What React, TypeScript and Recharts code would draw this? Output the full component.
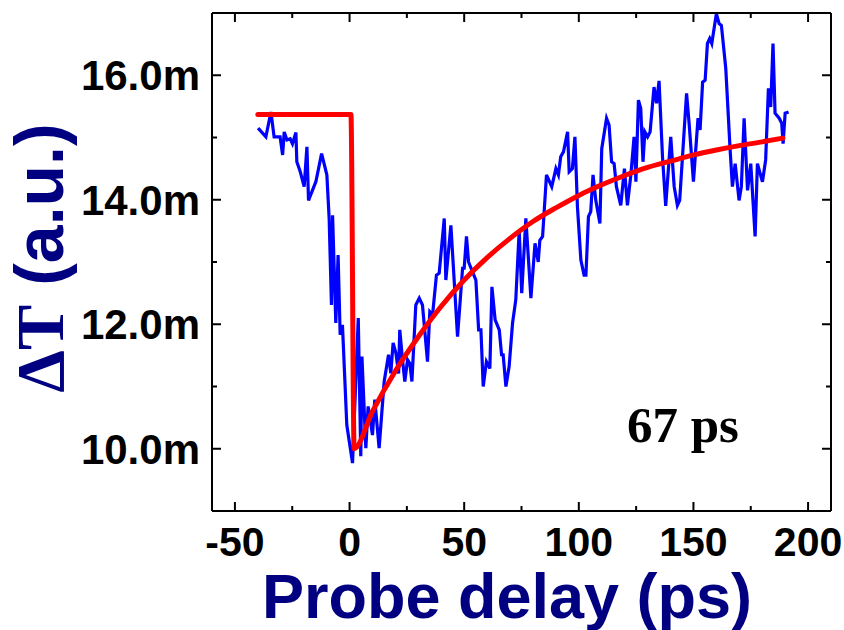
import React from "react";
import { LineChart, Line, XAxis, YAxis, Customized } from "recharts";

// measured trace (probe delay in ps, ΔT in units of 1e-3)
const blueT = [
  -39.9, -36.5, -34.3, -32.9, -30.3, -29.2, -28.5, -27.3, -25.9, -24.9, -23.4, -23.0, -21.5, -19.8, -18.6, -17.9,
  -14.7, -12.2, -9.9, -8.9, -7.9, -7.4, -6.0, -5.0, -4.1, -3.1, -1.2, 1.3, 3.8, 4.9, 5.4, 7.1, 8.1, 10.0, 11.0,
  12.9, 15.1, 17.0, 18.0, 19.0, 20.2, 21.4, 21.9, 23.1, 24.1, 25.3, 26.3, 27.2, 28.9, 30.4, 31.8, 34.0, 35.0,
  36.2, 37.9, 39.1, 41.3, 42.0, 44.2, 47.1, 49.3, 50.0, 51.0, 51.9, 55.1, 56.3, 57.3, 58.3, 59.7, 61.2, 62.1,
  63.5, 65.3, 66.3, 67.0, 68.2, 69.6, 71.1, 72.5, 74.0, 75.1, 76.9, 79.1, 80.9, 82.3, 83.0, 84.2, 85.9, 88.2,
  90.0, 91.1, 92.1, 93.3, 95.1, 95.8, 97.2, 98.3, 99.4, 100.9, 102.3, 103.1, 104.2, 105.2, 106.2, 107.4, 109.2,
  110.0, 112.1, 113.2, 114.3, 115.4, 116.4, 118.3, 119.9, 121.2, 122.7, 124.1, 124.9, 126.0, 127.0, 128.0,
  128.8, 130.0, 131.1, 132.8, 133.9, 135.0, 136.5, 137.9, 140.1, 141.6, 143.0, 144.0, 147.0, 148.1, 150.0,
  152.0, 152.9, 154.0, 155.1, 156.1, 157.1, 158.0, 160.0, 161.2, 162.2, 164.1, 166.0, 167.0, 168.2, 169.9,
  170.9, 172.1, 173.6, 175.0, 176.9, 177.9, 180.1, 181.5, 182.7, 183.7, 184.7, 185.6, 187.4, 188.5, 189.1,
  190.0, 191.5,
];
const blueV = [
  15.15, 15.01, 15.41, 15.01, 15.01, 14.72, 15.09, 14.96, 14.98, 14.9, 15.08, 14.61, 14.45, 14.21, 14.85, 13.99,
  14.29, 14.74, 14.4, 13.7, 12.31, 13.75, 12.02, 13.11, 11.83, 11.99, 10.38, 9.77, 12.1, 9.88, 11.48, 10.01,
  10.68, 10.22, 10.79, 10.01, 11.08, 11.51, 11.21, 11.7, 11.54, 11.21, 11.91, 11.43, 11.08, 11.43, 11.37,
  11.08, 12.31, 12.42, 12.31, 11.4, 12.2, 12.15, 12.79, 12.82, 13.7, 12.71, 13.59, 11.8, 12.9, 12.9, 13.41,
  13.0, 12.71, 11.91, 11.91, 11.0, 11.4, 11.29, 12.6, 12.07, 11.91, 11.51, 11.51, 11.0, 11.32, 12.02, 12.39,
  13.51, 12.5, 13.7, 12.42, 13.3, 13.0, 13.35, 13.41, 14.4, 14.21, 14.5, 14.4, 14.69, 14.77, 15.09, 14.45,
  14.5, 15.01, 13.89, 13.03, 12.79, 12.79, 13.73, 13.81, 14.4, 13.99, 13.62, 14.82, 15.31, 15.2, 14.61, 14.58,
  14.21, 13.91, 14.5, 13.91, 14.4, 15.01, 14.29, 15.6, 15.47, 14.61, 15.09, 15.01, 15.09, 15.81, 15.55, 15.91,
  14.69, 13.9, 15.01, 14.21, 13.91, 13.99, 15.71, 15.23, 14.29, 15.31, 15.12, 15.89, 15.92, 16.51, 16.59,
  16.51, 16.99, 16.83, 16.8, 16.11, 14.8, 14.21, 14.58, 13.99, 14.21, 15.31, 14.15, 14.58, 13.41, 14.58,
  14.29, 14.64, 15.79, 15.49, 16.51, 15.39, 15.31, 15.23, 14.9, 15.39, 15.41,
];

// single-exponential fit (τ = 67 ps)
const fitT = [-40, 0.6, 2, 10, 20, 30, 40, 50, 60, 70, 80, 90, 100, 110, 120, 130, 140, 150, 160, 170, 180, 189];
const fitV = [
  15.37, 15.37, 10.0, 10.6, 11.25, 11.8, 12.29, 12.71, 13.07, 13.38, 13.65, 13.87, 14.07, 14.24, 14.39, 14.52,
  14.62, 14.72, 14.8, 14.87, 14.93, 14.99,
];

const xTicks = [-50, -25, 0, 25, 50, 75, 100, 125, 150, 175, 200];
const yTicks = [10, 11, 12, 13, 14, 15, 16];

const blueData = blueT.map((t, i) => ({ t, v: blueV[i] }));
const fitData = fitT.map((t, i) => ({ t, v: fitV[i] }));

const FONT = "'Liberation Sans', Arial, sans-serif";
const SERIF = "'Liberation Serif', 'Times New Roman', serif";
const NAVY = "#000080";

const BottomTick = ({ x, y, payload }: any) => {
  const major = payload.value % 50 === 0;
  return (
    <g>
      <line x1={x} y1={y} x2={x} y2={y - (major ? 9 : 5)} stroke="#000" strokeWidth={2} />
      {major && (
        <text x={x} y={y + 45} textAnchor="middle" fontFamily={FONT} fontWeight="bold" fontSize={41} fill="#000">
          {payload.value}
        </text>
      )}
    </g>
  );
};

const TopTick = ({ x, y, payload }: any) => {
  const major = payload.value % 50 === 0;
  return <line x1={x} y1={y} x2={x} y2={y + (major ? 9 : 5)} stroke="#000" strokeWidth={2} />;
};

const LeftTick = ({ x, y, payload }: any) => {
  const major = payload.value % 2 === 0;
  return (
    <g>
      <line x1={x} y1={y} x2={x + (major ? 9 : 5)} y2={y} stroke="#000" strokeWidth={2} />
      {major && (
        <text x={x - 12} y={y + 15} textAnchor="end" fontFamily={FONT} fontWeight="bold" fontSize={42} fill="#000">
          {payload.value.toFixed(1)}m
        </text>
      )}
    </g>
  );
};

const RightTick = ({ x, y, payload }: any) => {
  const major = payload.value % 2 === 0;
  return <line x1={x} y1={y} x2={x - (major ? 9 : 5)} y2={y} stroke="#000" strokeWidth={2} />;
};

const Labels = () => (
  <g>
    <text x={507} y={618} textAnchor="middle" fontFamily={FONT} fontWeight="bold" fontSize={63} fill={NAVY}>
      Probe delay (ps)
    </text>
    <text
      x={63}
      y={258}
      textAnchor="middle"
      transform="rotate(-90, 63, 258)"
      fontWeight="bold"
      fontSize={68}
      fill={NAVY}
    >
      <tspan fontFamily={SERIF}>ΔT</tspan>
      <tspan fontFamily={FONT}> (a.u.)</tspan>
    </text>
    <text x={627} y={442} fontFamily={SERIF} fontWeight="bold" fontSize={51} fill="#000">
      67 ps
    </text>
  </g>
);

export default function App() {
  const axisLine = { stroke: "#000", strokeWidth: 2 };
  return (
    <div style={{ position: "absolute", left: 0, top: 0, background: "#fff" }}>
      <LineChart width={844} height={630} margin={{ top: 12, right: 12, left: 0, bottom: 0 }}>
        <XAxis
          type="number"
          dataKey="t"
          domain={[-60, 210]}
          ticks={xTicks}
          allowDataOverflow
          height={119}
          tickSize={0}
          tickMargin={0}
          tickLine={false}
          axisLine={axisLine}
          tick={<BottomTick />}
          interval={0}
        />
        <XAxis
          xAxisId="top"
          orientation="top"
          type="number"
          dataKey="t"
          domain={[-60, 210]}
          ticks={xTicks}
          allowDataOverflow
          height={1}
          tickSize={0}
          tickMargin={0}
          tickLine={false}
          axisLine={axisLine}
          tick={<TopTick />}
          interval={0}
        />
        <YAxis
          type="number"
          domain={[9, 17]}
          ticks={yTicks}
          allowDataOverflow
          width={212}
          tickSize={0}
          tickMargin={0}
          tickLine={false}
          axisLine={axisLine}
          tick={<LeftTick />}
          interval={0}
        />
        <YAxis
          yAxisId="right"
          orientation="right"
          type="number"
          domain={[9, 17]}
          ticks={yTicks}
          allowDataOverflow
          width={1}
          tickSize={0}
          tickMargin={0}
          tickLine={false}
          axisLine={axisLine}
          tick={<RightTick />}
          interval={0}
        />
        <Line
          data={blueData}
          dataKey="v"
          type="linear"
          stroke="#0000ff"
          strokeWidth={3.2}
          dot={false}
          isAnimationActive={false}
        />
        <Line
          data={fitData}
          dataKey="v"
          type="monotone"
          stroke="#ff0000"
          strokeWidth={5}
          strokeLinecap="round"
          dot={false}
          isAnimationActive={false}
        />
        <Customized component={Labels} />
      </LineChart>
    </div>
  );
}
